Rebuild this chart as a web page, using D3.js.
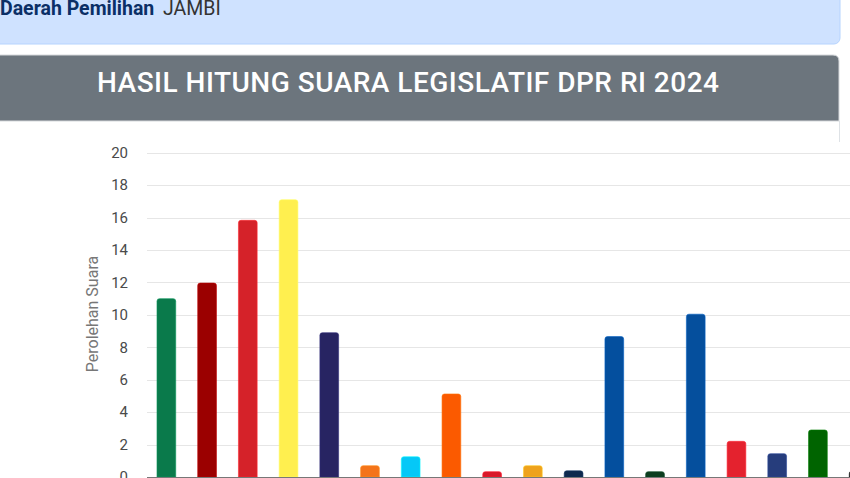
<!DOCTYPE html>
<html>
<head>
<meta charset="utf-8">
<script src="https://cdn.jsdelivr.net/npm/d3@7"></script>
<style>
  html, body { margin: 0; padding: 0; background: #fff; overflow: hidden; }
  svg { display: block; font-family: Roboto, "Noto Sans", sans-serif; }
</style>
</head>
<body>
<svg id="chart" width="850" height="478"></svg>
<script>
// ---- data ----
const categories = ["PKB", "Gerindra", "PDIP", "Golkar", "NasDem", "Partai Buruh", "Gelora", "PKS", "PKN",
  "Hanura", "Garuda", "PAN", "PBB", "Demokrat", "PSI", "Perindo", "PPP", "Partai Ummat"];
const values = [11.0, 11.96, 15.83, 17.1, 8.9, 0.7, 1.25, 5.12, 0.33, 0.7, 0.38, 8.66, 0.33, 10.04, 2.2, 1.44, 2.9, 0.35];
const barColors = ["#0a7a4b", "#9b0000", "#d52229", "#ffef4f", "#272462", "#f4741a", "#05c8f7", "#fb5a00", "#d8192a",
  "#eea21d", "#0e2a4e", "#044f9e", "#0c3d1f", "#054f9d", "#e4222e", "#263d7c", "#006400", "#111111"];
const yTicks = [0, 2, 4, 6, 8, 10, 12, 14, 16, 18, 20];
const title = "HASIL HITUNG SUARA LEGISLATIF DPR RI 2024";
const dapilLabel = "Daerah Pemilihan";
const dapilName = "JAMBI";
const yTitle = "Perolehan Suara";

const svg = d3.select("#chart");

// ---- top info box ----
svg.append("rect").attr("x", -10).attr("y", -10).attr("width", 850).attr("height", 54)
  .attr("rx", 6).attr("fill", "#cfe2ff").attr("stroke", "#b6d4fe").attr("stroke-width", 1);
svg.append("text").attr("x", 0).attr("y", 15).attr("font-size", 19.5).attr("font-weight", 700)
  .attr("fill", "#0b2f66").text(dapilLabel);
svg.append("text").attr("x", 163).attr("y", 15).attr("font-size", 19.5).attr("font-weight", 400)
  .attr("fill", "#333").text(dapilName);

// ---- header ----
svg.append("path")
  .attr("d", "M-10,55 H833 Q839,55 839,61 V121 H-10 Z")
  .attr("fill", "#6c757d").attr("stroke", "#d6d9dc").attr("stroke-width", 1);
svg.append("text").attr("x", 408).attr("y", 92).attr("text-anchor", "middle")
  .attr("font-size", 28).attr("font-weight", 500).attr("fill", "#fff")
  .attr("textLength", 622).attr("lengthAdjust", "spacing").text(title);

// card right border
svg.append("line").attr("x1", 839.5).attr("x2", 839.5).attr("y1", 121).attr("y2", 142)
  .attr("stroke", "#dee2e6");

// ---- chart ----
const y = d3.scaleLinear().domain([0, 20]).range([477, 152.7]);
const x = d3.scaleBand().domain(categories).range([146, 879]).paddingInner(0.54).paddingOuter(0.27);

// grid
svg.append("g").selectAll("line").data(yTicks.filter(d => d > 0)).join("line")
  .attr("x1", 147).attr("x2", 850)
  .attr("y1", d => Math.round(y(d)) + 0.5).attr("y2", d => Math.round(y(d)) + 0.5)
  .attr("stroke", "#e6e6e6").attr("stroke-width", 1);

// y axis labels
const yAxis = d3.axisLeft(y).tickValues(yTicks).tickSize(0).tickPadding(0);
const gy = svg.append("g").attr("transform", "translate(128,0)").call(yAxis);
gy.select(".domain").remove();
gy.selectAll("text").attr("font-size", 15).attr("fill", "#4a4a4a")
  .attr("font-family", "Roboto, sans-serif");

// y title
svg.append("text").attr("transform", "translate(97.5,314) rotate(-90)")
  .attr("text-anchor", "middle").attr("font-size", 16).attr("fill", "#777").text(yTitle);

// bars with rounded top
function barPath(d) {
  const bx = x(d.cat), bw = x.bandwidth(), top = y(d.v), base = y(0);
  const r = Math.min(2.5, (base - top) / 2);
  return `M${bx},${base} V${top + r} Q${bx},${top} ${bx + r},${top} H${bx + bw - r} Q${bx + bw},${top} ${bx + bw},${top + r} V${base} Z`;
}
const data = categories.map((c, i) => ({ cat: c, v: values[i], color: barColors[i] }));
svg.append("g").selectAll("path").data(data).join("path")
  .attr("d", barPath)
  .attr("fill", d => d.color)
  .attr("stroke", d => d3.color(d.color).brighter(0.6))
  .attr("stroke-width", 0.6);

// baseline
svg.append("line").attr("x1", 147).attr("x2", 850).attr("y1", 477.5).attr("y2", 477.5)
  .attr("stroke", "#777").attr("stroke-width", 1.2);
</script>
</body>
</html>
